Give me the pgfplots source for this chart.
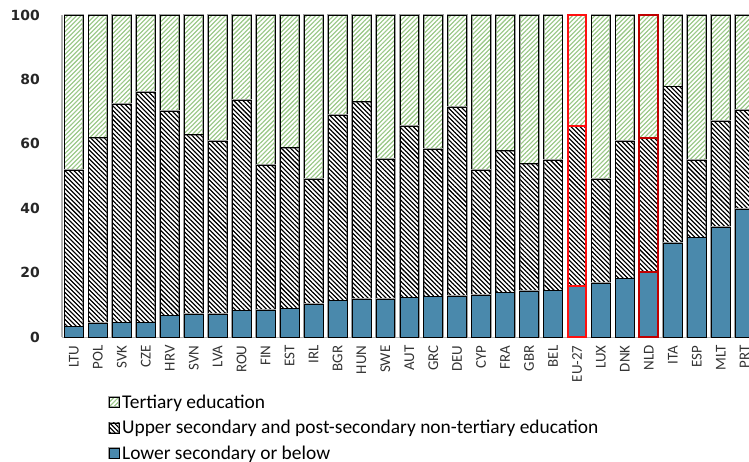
\documentclass[border=0pt]{standalone}
\usepackage{pgfplots}
\pgfplotsset{compat=1.18}
\usepackage{pgfplotstable}
\usetikzlibrary{patterns.meta}
\usepackage{fontspec}
\setmainfont{Carlito}
\newfontfamily\dejavu{DejaVu Sans}
\definecolor{lowblue}{HTML}{4A89AC}
\definecolor{tertgreen}{HTML}{9CC98A}
\definecolor{edgegray}{HTML}{A0A0A0}
\definecolor{hlred}{HTML}{FF1010}
\definecolor{hldred}{HTML}{C00000}

\pgfplotstableread{
x  cat   low  upp  ter
0  LTU   3.3  48.6 48.1
1  POL   4.3  57.6 38.1
2  SVK   4.5  67.9 27.6
3  CZE   4.6  71.4 24.0
4  HRV   6.7  63.4 29.9
5  SVN   7.1  55.8 37.1
6  LVA   7.1  53.8 39.1
7  ROU   8.3  65.3 26.4
8  FIN   8.4  45.1 46.5
9  EST   8.9  49.9 41.2
10 IRL   10.2 38.8 51.0
11 BGR   11.4 57.5 31.1
12 HUN   11.8 61.3 26.9
13 SWE   11.8 43.4 44.8
14 AUT   12.3 53.3 34.4
15 GRC   12.6 45.7 41.7
16 DEU   12.8 58.7 28.5
17 CYP   13.1 38.8 48.1
18 FRA   13.8 44.1 42.1
19 GBR   14.4 39.5 46.1
20 BEL   14.5 40.4 45.1
21 EU-27 16.0 49.5 34.5
22 LUX   16.8 32.3 50.9
23 DNK   18.2 42.7 39.1
24 NLD   20.4 41.4 38.2
25 ITA   29.3 48.5 22.2
26 ESP   30.9 24.0 45.1
27 MLT   34.1 32.9 33.0
28 PRT   39.8 30.7 29.5
}\datatable

\pgfplotsset{
  common/.style={
    scale only axis, width=687bp, height=322.3bp,
    xmin=-0.5, xmax=28.18, ymin=0, ymax=100,
    bar width=0.79,
  },
  baredge/.style={draw=black, line width=0.7pt,
    preaction={draw=edgegray, line width=1.9pt}},
  sqlegend/.style={legend image code/.code={\draw[##1] (0bp,-5bp) rectangle (10bp,5bp);}},
  hl/.style={draw=#1, line width=2pt, fill=none, bar shift=0pt},
}

\begin{document}
\begin{tikzpicture}
\begin{axis}[common, ybar stacked,
  axis x line*=bottom, axis y line*=left,
  axis line style={-, draw=gray!60, line width=1.2pt},
  tick style={draw=none},
  major tick length=22bp,
  ytick align=outside, xtick align=inside,
  xtick=data,
  xticklabels from table={\datatable}{cat},
  xticklabel style={shift={(0,-8bp)}, rotate=90, anchor=east, inner sep=0pt,
    font=\fontsize{15}{15}\selectfont, text=black!80},
  ytick={0,20,40,60,80,100},
  yticklabel style={anchor=east, inner sep=0pt,
    font=\dejavu\bfseries\fontsize{14}{14}\selectfont, text=black!85},
  /pgf/number format/assume math mode=true,
  reverse legend,
  legend cell align=left,
  legend style={at={(axis description cs:0.067,-0.172)}, anchor=north west,
    draw=none, fill=none, inner sep=0pt, row sep=6.5bp,
    font=\fontsize{19.5}{20}\selectfont,
    /tikz/every even column/.append style={column sep=3bp}},
]
\addplot[baredge, fill=lowblue, sqlegend]
  table[x=x, y=low] {\datatable};
\addplot[baredge, pattern={Lines[angle=-45, distance=3.2pt, line width=0.9pt]}, pattern color=black, sqlegend]
  table[x=x, y=upp] {\datatable};
\addplot[baredge, pattern={Lines[angle=45, distance=3.2pt, line width=0.9pt]}, pattern color=tertgreen, sqlegend]
  table[x=x, y=ter] {\datatable};
\legend{Lower secondary or below,
  Upper secondary and post-secondary non-tertiary education,
  Tertiary education}
\end{axis}
% highlighted bars: EU-27
\begin{axis}[common, ybar stacked, hide axis]
\addplot[hl=hlred] coordinates {(21,16.0)};
\addplot[hl=hlred] coordinates {(21,49.5)};
\addplot[hl=hlred] coordinates {(21,34.5)};
\end{axis}
% highlighted bars: NLD
\begin{axis}[common, ybar stacked, hide axis]
\addplot[hl=hldred] coordinates {(24,20.4)};
\addplot[hl=hldred] coordinates {(24,41.4)};
\addplot[hl=hldred] coordinates {(24,38.2)};
\end{axis}
\pgfresetboundingbox
\path (-62bp,-124.7bp) rectangle (687bp,337.3bp);
\end{tikzpicture}
\end{document}
